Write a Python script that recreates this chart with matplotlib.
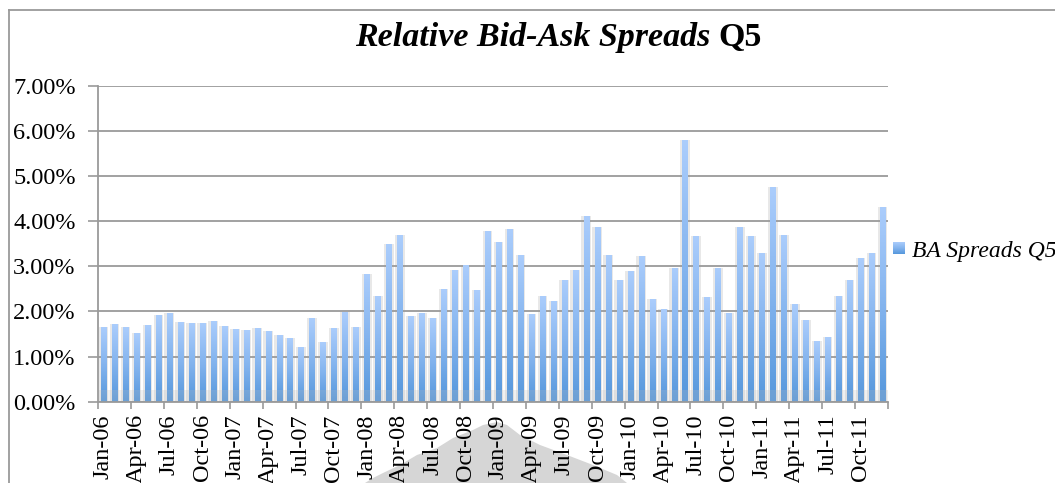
import matplotlib
matplotlib.use("Agg")
import matplotlib.pyplot as plt
import numpy as np
from matplotlib.colors import LinearSegmentedColormap
from matplotlib.patches import Polygon
from matplotlib.lines import Line2D

# ---- data ----
months = ["Jan", "Feb", "Mar", "Apr", "May", "Jun", "Jul", "Aug", "Sep", "Oct", "Nov", "Dec"]
years = ["06", "07", "08", "09", "10", "11"]
categories = [f"{m}-{y}" for y in years for m in months]

spreads_pct = [
    1.65, 1.72, 1.65, 1.52, 1.70, 1.92, 1.97, 1.77, 1.74, 1.74, 1.79, 1.68,
    1.61, 1.59, 1.63, 1.57, 1.48, 1.41, 1.21, 1.85, 1.32, 1.63, 1.99, 1.65,
    2.83, 2.34, 3.49, 3.69, 1.90, 1.97, 1.85, 2.50, 2.92, 3.02, 2.47, 3.78,
    3.54, 3.83, 3.25, 1.94, 2.34, 2.23, 2.70, 2.92, 4.11, 3.87, 3.25, 2.70,
    2.90, 3.23, 2.27, 2.05, 2.97, 5.80, 3.67, 2.32, 2.97, 1.97, 3.87, 3.67,
    3.29, 4.76, 3.69, 2.16, 1.81, 1.34, 1.43, 2.34, 2.70, 3.18, 3.29, 4.31,
]
series_name = "BA Spreads Q5"
title_main = "Relative Bid-Ask Spreads "
title_tail = "Q5"
yticks = [0, 1, 2, 3, 4, 5, 6, 7]

W, H = 1055, 483
fig = plt.figure(figsize=(W / 100, H / 100), dpi=100)
fig.patch.set_facecolor("white")

serif = ["Liberation Serif", "DejaVu Serif"]

# background grey blob (behind labels)
blob_px = [(365, 483), (373, 478), (383, 473), (400, 465), (417, 455), (437, 448),
           (453, 438), (473, 430), (483, 425), (497, 422), (507, 425), (520, 435),
           (540, 445), (567, 455), (593, 465), (617, 475), (627, 483)]
blob = Polygon([(x / W, 1 - y / H) for x, y in blob_px], closed=True,
               transform=fig.transFigure, facecolor="#d6d6d6", edgecolor="none", zorder=0)
fig.add_artist(blob)

# outer frame (left and top lines)
fig.add_artist(Line2D([8.5 / W, 8.5 / W], [1 - 10 / H, 0], transform=fig.transFigure,
                      color="#9a9a9a", lw=1.3))
fig.add_artist(Line2D([8.5 / W, 1], [1 - 10 / H, 1 - 10 / H], transform=fig.transFigure,
                      color="#9a9a9a", lw=1.3))

left, right, top, bottom = 98, 888, 85.7, 401.7
ax = fig.add_axes([left / W, 1 - bottom / H, (right - left) / W, (bottom - top) / H])
ax.set_facecolor("none")

x = np.arange(len(spreads_pct))
vals = np.array(spreads_pct)

# soft shadow behind bars
ax.bar(x, vals, width=0.88, color="#e8e8e8", zorder=0.5, linewidth=0)

# gridlines
for t in yticks:
    ax.axhline(t, color="#9a9a9a", lw=1.3, zorder=1)

# gradient bars
cmap = LinearSegmentedColormap.from_list("blu", ["#5597dc", "#84b4ee", "#abcdfc"])
grad = np.linspace(0, 1, 256).reshape(-1, 1)
bars = ax.bar(x, vals, width=0.46, color="#84b4ee", zorder=2, linewidth=0)
for b in bars:
    x0 = b.get_x()
    w = b.get_width()
    h = b.get_height()
    im = ax.imshow(grad, extent=[x0, x0 + w, 0, h], origin="lower", aspect="auto",
                   cmap=cmap, zorder=2.1, interpolation="bilinear")
    im.set_clip_path(b)

# floor band
ax.axhspan(0, 0.26, color="#bdbdbd", alpha=0.22, zorder=2.5, lw=0)

ax.set_xlim(-0.5, len(vals) - 0.5)
ax.set_ylim(0, 7)
ax.set_yticks(yticks)
ax.set_yticklabels([f"{t:.2f}%" for t in yticks], family=serif, fontsize=17.5)

ax.set_xticks(np.arange(-0.5, len(vals), 3))
ax.set_xticklabels([])
ax.set_xticks(x[::3], minor=True)
ax.set_xticklabels(categories[::3], minor=True, rotation=90, family=serif, fontsize=17.5)
ax.tick_params(axis="x", which="major", length=5, color="#9a9a9a", width=1.2, direction="out")
ax.tick_params(axis="x", which="minor", length=0, pad=9)
ax.tick_params(axis="y", length=7, color="#9a9a9a", width=1.2, pad=9)

for s in ["top", "right"]:
    ax.spines[s].set_visible(False)
for s in ["left", "bottom"]:
    ax.spines[s].set_color("#9a9a9a")
    ax.spines[s].set_linewidth(1.3)
    ax.spines[s].set_zorder(3)

# title
t1 = fig.text(355 / W, 1 - 46 / H, title_main, family=serif, fontsize=24.5,
              fontweight="bold", fontstyle="italic", va="baseline", ha="left")
fig.canvas.draw()
ax.annotate(title_tail, xy=(1, 0), xycoords=t1, va="bottom", ha="left",
            family=serif, fontsize=24.5, fontweight="bold", annotation_clip=False)

# legend
lax = fig.add_axes([893 / W, 1 - 254 / H, 12 / W, 12 / H])
lax.imshow(grad, origin="lower", aspect="auto", cmap=cmap, extent=[0, 1, 0, 1])
lax.axis("off")
fig.text(912 / W, 1 - 257 / H, series_name, family=serif, fontsize=17,
         fontstyle="italic", va="baseline", ha="left")

fig.savefig("out.png", dpi=100, facecolor="white")
